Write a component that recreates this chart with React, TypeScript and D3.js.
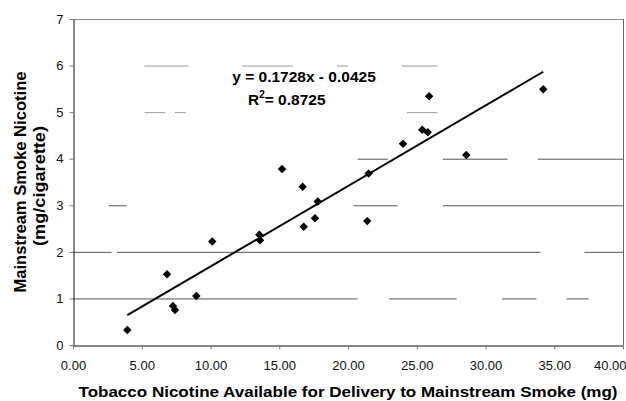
import React, { Component } from 'react';
import * as d3 from "d3";

// tobacco nicotine available (mg) vs mainstream smoke nicotine (mg/cig)
const tobaccoNic = [3.95, 6.84, 7.27, 7.42, 8.97, 10.13, 13.55, 13.6, 15.2, 16.7, 16.78, 17.6, 17.8, 21.4, 21.5, 24.0, 25.4, 25.8, 25.9, 28.6, 34.2];
const smokeNic = [0.32, 1.52, 0.84, 0.75, 1.05, 2.22, 2.37, 2.25, 3.78, 3.40, 2.54, 2.72, 3.08, 2.66, 3.68, 4.32, 4.62, 4.57, 5.34, 4.08, 5.49];

const slope = 0.1728;
const intercept = -0.0425;
const rSquared = "0.8725";

const xTicks = [0, 5, 10, 15, 20, 25, 30, 35, 40];
const yTicks = [0, 1, 2, 3, 4, 5, 6, 7];

// gridlines are broken up in the scan, keep the visible pieces (x in data units)
const gridLevels = [1, 2, 3, 4, 5, 6];
const gridPieces = [
    [[0, 20.7], [23.0, 27.9], [31.2, 33.7], [35.9, 37.5]],
    [[0, 2.8], [3.2, 34.0], [37.2, 40]],
    [[2.6, 3.9], [20.4, 23.6], [26.9, 40]],
    [[20.7, 22.9], [26.9, 31.6], [33.8, 40]],
    [[5.2, 6.7], [7.4, 8.2], [24.3, 26.5]],
    [[5.2, 8.4], [12.3, 16.0], [19.2, 20.0], [23.9, 26.5]],
];

export default class App extends Component {
    svgRef = React.createRef<SVGSVGElement>();

    componentDidMount() {
        this.draw();
    }

    draw() {
        const left = 73, right = 623, top = 19, bottom = 345;
        const svg = d3.select(this.svgRef.current);
        svg.selectAll("*").remove();

        const x = d3.scaleLinear().domain([0, 40]).range([left, right]);
        const y = d3.scaleLinear().domain([0, 7]).range([bottom, top]);

        const font = "'Liberation Sans', Arial, sans-serif";

        // gridlines
        const grid = svg.append("g").attr("class", "grid");
        gridLevels.forEach((lvl, i) => {
            grid.selectAll(null)
                .data(gridPieces[i])
                .enter().append("line")
                .attr("x1", d => x(d[0]))
                .attr("x2", d => x(d[1]))
                .attr("y1", y(lvl) + 0.5)
                .attr("y2", y(lvl) + 0.5)
                .attr("stroke", i >= 4 ? "#9a9a9a" : "#555")
                .attr("stroke-width", 1);
        });

        // frame top / right
        svg.append("line").attr("x1", left).attr("x2", right).attr("y1", top + 0.5).attr("y2", top + 0.5)
            .attr("stroke", "#8a8a8a");
        svg.append("line").attr("x1", right + 0.5).attr("x2", right + 0.5).attr("y1", top).attr("y2", bottom)
            .attr("stroke", "#666");

        // axes
        const xAxis = svg.append("g")
            .attr("transform", `translate(0,${bottom + 0.5})`)
            .call(d3.axisBottom(x).tickValues(xTicks).tickFormat(d3.format(".2f")).tickSize(4).tickPadding(11).tickSizeOuter(0));
        xAxis.select(".domain").attr("stroke", "#111");
        xAxis.selectAll(".tick line").attr("stroke", "#777");
        xAxis.selectAll("text").attr("font-family", font).attr("font-size", 13).attr("fill", "#111");
        // last label sits inside the plot edge
        xAxis.selectAll(".tick:last-of-type text").attr("text-anchor", "end").attr("dx", 3);

        const yAxis = svg.append("g")
            .attr("transform", `translate(${left + 0.5},0)`)
            .call(d3.axisLeft(y).tickValues(yTicks).tickFormat(d3.format("d")).tickSize(4).tickPadding(6).tickSizeOuter(0));
        yAxis.select(".domain").attr("stroke", "#111");
        yAxis.selectAll(".tick line").attr("stroke", "#777");
        yAxis.selectAll("text").attr("font-family", font).attr("font-size", 13).attr("fill", "#111");

        // trend line over data range
        const xs = d3.extent(tobaccoNic) as [number, number];
        const line = d3.line<number>()
            .x(d => x(d))
            .y(d => y(slope * d + intercept));
        svg.append("path")
            .datum(xs)
            .attr("d", line)
            .attr("fill", "none")
            .attr("stroke", "#000")
            .attr("stroke-width", 2);

        // points
        const pts = tobaccoNic.map((v, i) => [v, smokeNic[i]]);
        svg.selectAll(".pt")
            .data(pts)
            .enter().append("path")
            .attr("class", "pt")
            .attr("d", d3.symbol().type(d3.symbolSquare).size(36))
            .attr("transform", d => `translate(${x(d[0])},${y(d[1])}) rotate(45)`)
            .attr("fill", "#000");

        // equation
        const eq = svg.append("g").attr("font-family", font).attr("font-weight", "bold").attr("font-size", 15.5).attr("fill", "#000");
        eq.append("text").attr("x", 304).attr("y", 82).attr("text-anchor", "middle")
            .text(`y = ${slope}x - ${Math.abs(intercept).toFixed(4)}`);
        const r2 = eq.append("text").attr("x", 248).attr("y", 105);
        r2.append("tspan").text("R");
        r2.append("tspan").attr("font-size", 10).attr("dy", -7).text("2");
        r2.append("tspan").attr("dy", 7).text(`= ${rSquared}`);

        // axis titles
        svg.append("text")
            .attr("x", (left + right) / 2).attr("y", 397)
            .attr("text-anchor", "middle")
            .attr("font-family", font).attr("font-weight", "bold").attr("font-size", 15.5)
            .attr("textLength", 539).attr("lengthAdjust", "spacingAndGlyphs")
            .text("Tobacco Nicotine Available for Delivery to Mainstream Smoke (mg)");

        const cy = (top + bottom) / 2;
        const yt = svg.append("g")
            .attr("font-family", font).attr("font-weight", "bold").attr("font-size", 17)
            .attr("text-anchor", "middle");
        yt.append("text")
            .attr("transform", `translate(26,${cy}) rotate(-90)`)
            .attr("textLength", 221).attr("lengthAdjust", "spacingAndGlyphs")
            .text("Mainstream Smoke Nicotine");
        yt.append("text")
            .attr("transform", `translate(45,${cy + 4}) rotate(-90)`)
            .attr("textLength", 120).attr("lengthAdjust", "spacingAndGlyphs")
            .text("(mg/cigarette)");
    }

    render() {
        return (
            <div style={{ position: "absolute", left: 0, top: 0, width: 626, height: 401, background: "#fff" }}>
                <svg ref={this.svgRef} width={626} height={401} style={{ display: "block" }}></svg>
            </div>
        );
    }
}
